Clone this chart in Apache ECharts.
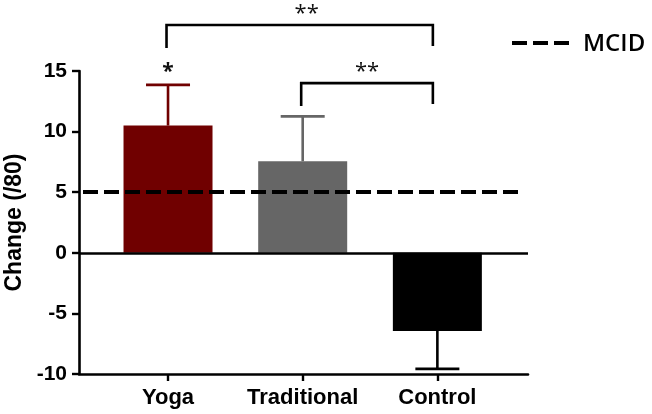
<!DOCTYPE html>
<html>
<head>
<meta charset="utf-8">
<script src="https://cdn.jsdelivr.net/npm/echarts@6/dist/echarts.min.js"></script>
<style>html,body{margin:0;padding:0;background:#fff;}#c{width:652px;height:414px;}</style>
</head>
<body>
<div id="c"></div>
<script>
// ---- data ----
const categories = ['Yoga', 'Traditional', 'Control'];
const meanChange = [10.5, 7.55, -6.45];
const errorSize = [3.36, 3.7, 3.12];          // one-sided error (away from zero)
const mcidValue = 5;
const yTicks = [-10, -5, 0, 5, 10, 15];
// significance brackets: [fromIndex, toIndex, bracketLevel, label]
const bracketFrom = [0, 1];
const bracketTo = [2, 2];
const bracketLevel = [18.8, 14.0];
const bracketLabel = ['**', '**'];
const starIndex = [0];
const starLevel = [15.3];
const starLabel = ['*'];

// ---- styles ----
const barColors = ['#700000', '#666666', '#000000'];
const FONT = 'Liberation Sans, Arial, sans-serif';

const chart = echarts.init(document.getElementById('c'), null, {renderer: 'canvas'});

const xMin = -0.661, xMax = 2.673;

const option = {
  animation: false,
  grid: {left: 79, right: 124, top: 71, bottom: 40, containLabel: false, outerBoundsMode: 'none'},
  xAxis: {
    type: 'value', min: xMin, max: xMax,
    axisLine: {show: true, onZero: false, lineStyle: {color: '#000', width: 2.6}},
    axisTick: {show: true, customValues: [0, 1, 2], length: 7, lineStyle: {color: '#000', width: 2.4}},
    axisLabel: {show: true, customValues: [0, 1, 2], margin: 13,
      formatter: v => categories[Math.round(v)],
      color: '#000', fontFamily: FONT, fontWeight: 'bold', fontSize: 22},
    splitLine: {show: false}
  },
  yAxis: {
    type: 'value', min: yTicks[0], max: yTicks[yTicks.length - 1], interval: 5,
    name: 'Change (/80)', nameLocation: 'middle', nameGap: 51, nameRotate: 90,
    nameTextStyle: {color: '#000', fontFamily: FONT, fontWeight: 'bold', fontSize: 23},
    axisLine: {show: true, onZero: false, lineStyle: {color: '#000', width: 2.6}},
    axisTick: {show: true, length: 7, lineStyle: {color: '#000', width: 2.4}},
    axisLabel: {margin: 12, color: '#000', fontFamily: FONT, fontWeight: 'bold', fontSize: 21},
    splitLine: {show: false}
  },
  series: [
    {
      type: 'bar',
      barWidth: 89,
      data: meanChange.map((v, i) => ({value: [i, v], itemStyle: {color: barColors[i]}})),
      markLine: {
        silent: true, symbol: 'none', animation: false,
        label: {show: false},
        data: [
          {yAxis: 0, lineStyle: {color: '#000', width: 2.6, type: 'solid'}},
          [{coord: [xMin + 4 / 134.7, mcidValue], lineStyle: {color: '#000', width: 4.2, type: [15, 6]}},
           {coord: [xMax - 5 / 134.7, mcidValue]}]
        ]
      }
    },
    {
      type: 'custom',
      data: meanChange.map((v, i) => [i, v, errorSize[i]]),
      renderItem: function (params, api) {
        const i = api.value(0), m = api.value(1), e = api.value(2);
        const end = m >= 0 ? m + e : m - e;
        const p0 = api.coord([i, m]);
        const p1 = api.coord([i, end]);
        const col = barColors[i];
        return {
          type: 'group',
          children: [
            {type: 'line', shape: {x1: p0[0], y1: p0[1], x2: p1[0], y2: p1[1]}, style: {stroke: col, lineWidth: 2.6}},
            {type: 'line', shape: {x1: p1[0] - 22, y1: p1[1], x2: p1[0] + 22, y2: p1[1]}, style: {stroke: col, lineWidth: 2.8}}
          ]
        };
      },
      z: 3
    },
    {
      type: 'custom',
      clip: false,
      data: bracketLevel.map((lv, k) => [bracketFrom[k], bracketTo[k], lv, k]),
      renderItem: function (params, api) {
        const a = api.value(0), b = api.value(1), lv = api.value(2), k = api.value(3);
        const pa = api.coord([a, lv]);
        const pb = api.coord([b, lv]);
        const x1 = pa[0] - 1.5, x2 = pb[0] - 4.5, y = pa[1];
        const legL = 23, legR = 21;
        const tx = k === 0 ? (x1 + x2) / 2 + 7 : (x1 + x2) / 2;
        return {
          type: 'group',
          children: [
            {type: 'polyline', shape: {points: [[x1, y + legL], [x1, y], [x2, y], [x2, y + legR]]},
             style: {stroke: '#000', lineWidth: 2.6, fill: null}},
            {type: 'text', x: tx, y: y - 11,
             style: {text: bracketLabel[k], fill: '#111', font: '22px "Open Sans", sans-serif',
                     align: 'center', verticalAlign: 'middle'}}
          ]
        };
      },
      z: 4
    },
    {
      type: 'custom',
      clip: false,
      data: starIndex.map((idx, k) => [idx, starLevel[k], k]),
      renderItem: function (params, api) {
        const p = api.coord([api.value(0), api.value(1)]);
        return {type: 'text', x: p[0], y: p[1] + 5,
          style: {text: starLabel[api.value(2)], fill: '#111', font: 'bold 21px "Open Sans", sans-serif',
                  align: 'center', verticalAlign: 'middle'}};
      },
      z: 4
    }
  ],
  graphic: [
    {type: 'line', shape: {x1: 512, y1: 43, x2: 570, y2: 43},
     style: {stroke: '#000', lineWidth: 4.2, lineDash: [15, 6]}},
    {type: 'text', x: 583, y: 44,
     style: {text: 'MCID', fill: '#000', font: '600 24px "Open Sans", sans-serif', align: 'left', verticalAlign: 'middle'}}
  ]
};
chart.setOption(option);
</script>
</body>
</html>
